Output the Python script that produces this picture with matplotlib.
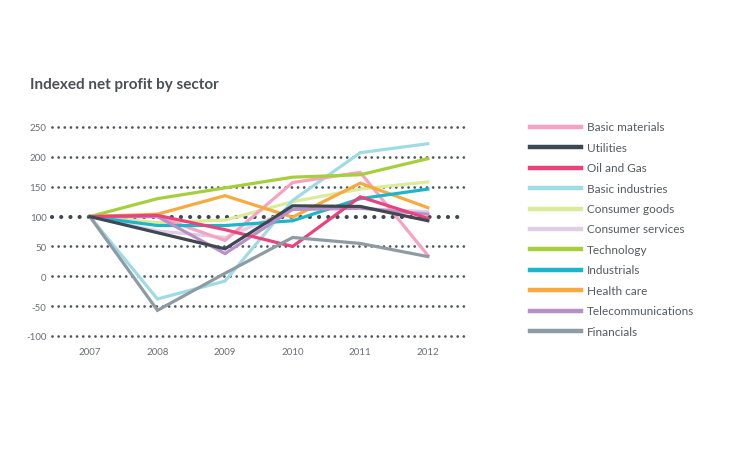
import matplotlib
matplotlib.use("Agg")
import matplotlib.pyplot as plt
from matplotlib.lines import Line2D

years = [2007, 2008, 2009, 2010, 2011, 2012]
y_ticks = [250, 200, 150, 100, 50, 0, -50, -100]

series_names = ["Basic materials", "Utilities", "Oil and Gas", "Basic industries",
                "Consumer goods", "Consumer services", "Technology", "Industrials",
                "Health care", "Telecommunications", "Financials"]

basic_materials = [100, 100, 60, 157, 174, 35]
utilities = [100, 73, 46, 118, 117, 93]
oil_and_gas = [100, 102, 78, 50, 133, 97]
basic_industries = [100, -38, -8, 127, 207, 222]
consumer_goods = [100, 90, 94, 125, 146, 158]
consumer_services = [100, 76, 65, 112, 114, 108]
technology = [100, 130, 148, 166, 170, 197]
industrials = [100, 85, 85, 93, 130, 146]
health_care = [100, 104, 135, 99, 156, 115]
telecommunications = [100, 100, 38, 112, 114, 104]
financials = [100, -57, 5, 65, 55, 33]

values = [basic_materials, utilities, oil_and_gas, basic_industries, consumer_goods,
          consumer_services, technology, industrials, health_care,
          telecommunications, financials]
colors = ["#f6a3c2", "#3e4852", "#e8437c", "#9fdbe4", "#dbeb9c", "#e0cde6",
          "#a7cf3b", "#1db6c8", "#f8aa3e", "#b88fc6", "#8f9ba4"]

W, H = 736, 460
fig = plt.figure(figsize=(W / 100, H / 100), dpi=100)
fig.patch.set_facecolor("white")

ax = fig.add_axes([52 / W, 1 - 337 / H, 413 / W, 209 / H])
ax.set_xlim(2006.44, 2012.55)
ax.set_ylim(-100, 250)
for s in ax.spines.values():
    s.set_visible(False)

# dotted gridlines
for t in y_ticks:
    if t == 100:
        ax.axhline(t, color="#3e4852", lw=3.0, ls=(0, (0.01, 2.2)),
                   dash_capstyle="round", zorder=1, clip_on=False)
    else:
        ax.axhline(t, color="#50565c", lw=2.0, ls=(0, (0.01, 2.2)),
                   dash_capstyle="round", zorder=1, clip_on=False)

order = [4, 5, 3, 0, 8, 6, 7, 9, 2, 10, 1]
for i in order:
    ax.plot(years, values[i], color=colors[i], lw=2.3, solid_joinstyle="miter",
            clip_on=False, zorder=3)

ax.set_yticks(y_ticks)
ax.set_yticklabels([str(t) for t in y_ticks], fontsize=7, color="#6b6f73",
                   family="Lato")
ax.set_xticks(years)
ax.set_xticklabels([str(y) for y in years], fontsize=7, color="#6b6f73",
                   family="Lato")
ax.tick_params(axis="both", length=0)
ax.tick_params(axis="y", pad=4)
ax.tick_params(axis="x", pad=8)

fig.text(30 / W, 1 - 85 / H, "Indexed net profit by sector", fontsize=11,
         fontweight="bold", color="#4a5057", family="Lato", va="center", ha="left")

# legend
y0 = 128
dy = 20.4
for k, name in enumerate(series_names):
    yy = 1 - (y0 + k * dy) / H
    fig.add_artist(Line2D([530 / W, 581 / W], [yy, yy], color=colors[k], lw=3.2,
                          transform=fig.transFigure))
    fig.text(587 / W, yy, name, fontsize=8.5, color="#555a5f", family="Lato",
             va="center", ha="left")

fig.savefig("out.png", dpi=100, facecolor="white")
